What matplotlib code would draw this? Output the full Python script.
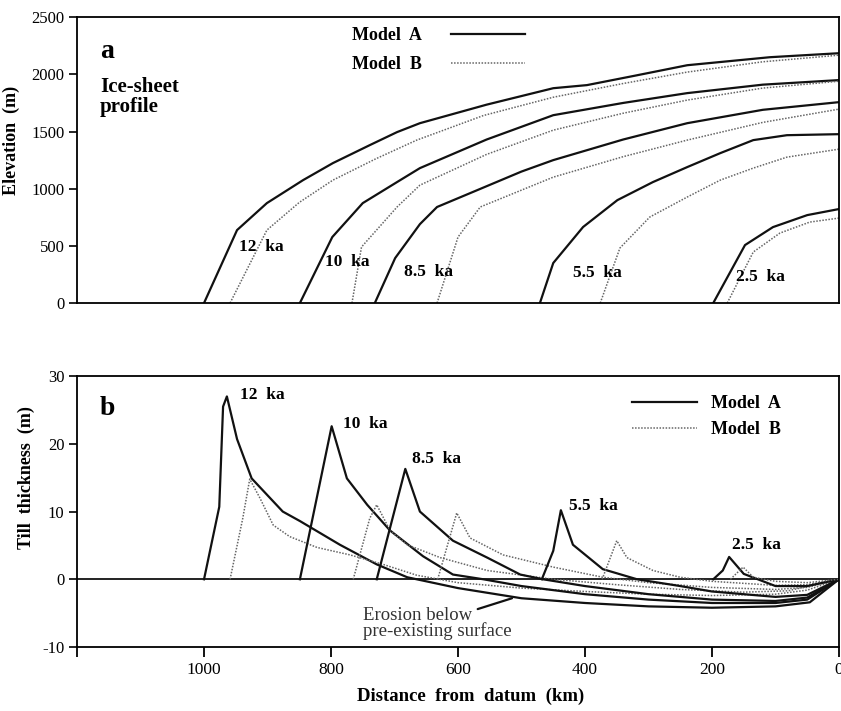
import matplotlib
matplotlib.use("Agg")
import matplotlib.pyplot as plt

plt.rcParams['font.family'] = ['Liberation Serif', 'DejaVu Serif']
plt.rcParams['axes.unicode_minus'] = False

ages = ["12", "10", "8.5", "5.5", "2.5"]

# Ice-sheet profiles: (distance km, elevation m)
prof_A = {
    "12": ([1000, 948, 901, 844, 797, 739, 696, 660, 555, 450, 397, 320, 239, 109, 0],
           [0, 638, 874, 1075, 1224, 1381, 1495, 1573, 1735, 1879, 1906, 1990, 2080, 2150, 2185]),
    "10": ([849, 798, 750, 696, 660, 555, 450, 340, 239, 120, 0],
           [0, 577, 874, 1058, 1180, 1430, 1643, 1750, 1836, 1910, 1950]),
    "8.5": ([731, 699, 660, 633, 581, 500, 450, 340, 239, 120, 0],
            [0, 393, 690, 840, 961, 1150, 1250, 1430, 1573, 1690, 1757]),
    "5.5": ([471, 450, 403, 349, 293, 239, 187, 135, 82, 0],
            [0, 350, 665, 900, 1058, 1189, 1311, 1425, 1468, 1477]),
    "2.5": ([198, 148, 104, 50, 0],
            [0, 507, 664, 769, 822]),
}
prof_B = {
    "12": ([959, 901, 850, 797, 730, 665, 560, 450, 340, 239, 120, 0],
           [0, 638, 880, 1075, 1260, 1425, 1640, 1800, 1920, 2020, 2110, 2168]),
    "10": ([767, 752, 696, 660, 555, 450, 340, 239, 120, 0],
           [0, 490, 840, 1031, 1300, 1512, 1660, 1775, 1880, 1940]),
    "8.5": ([633, 600, 565, 450, 340, 239, 120, 0],
            [0, 577, 840, 1101, 1280, 1425, 1580, 1696]),
    "5.5": ([376, 345, 298, 239, 187, 135, 82, 0],
            [0, 481, 752, 927, 1075, 1180, 1276, 1346]),
    "2.5": ([176, 135, 93, 46, 0],
            [0, 446, 612, 708, 743]),
}

# Till thickness: (distance km, thickness m)
till_A = {
    "12": ([1000, 976, 970, 964, 948, 925, 876, 849, 786, 728, 680, 600, 500, 400, 300, 200, 100, 46, 0],
           [0, 10.7, 25.5, 27.0, 20.7, 14.9, 10.0, 8.6, 5.1, 2.2, 0.3, -1.3, -2.8, -3.5, -4.0, -4.2, -4.0, -3.4, 0]),
    "10": ([849, 799, 775, 743, 707, 655, 608, 560, 500, 400, 300, 200, 100, 50, 0],
           [0, 22.6, 14.9, 11.0, 7.2, 3.4, 0.7, 0, -1.0, -2.2, -3.0, -3.5, -3.5, -3.0, 0]),
    "8.5": ([728, 683, 660, 608, 554, 502, 466, 400, 300, 200, 100, 50, 0],
            [0, 16.3, 10.0, 5.7, 3.2, 0.7, 0, -1.0, -2.2, -3.0, -3.2, -2.7, 0]),
    "5.5": ([468, 450, 438, 419, 372, 318, 250, 200, 100, 50, 0],
            [0, 4.2, 10.2, 5.1, 1.5, 0, -1.0, -1.8, -2.6, -2.3, 0]),
    "2.5": ([198, 183, 173, 150, 100, 50, 0],
            [0, 1.3, 3.3, 0.8, -1.0, -1.0, 0]),
}
till_B = {
    "12": ([959, 939, 928, 912, 891, 865, 822, 770, 718, 665, 600, 500, 400, 300, 200, 100, 50, 0],
           [0, 9.0, 14.8, 12.0, 8.0, 6.3, 4.7, 3.6, 2.2, 0.6, -0.5, -1.3, -1.8, -2.2, -2.4, -2.2, -1.6, 0]),
    "10": ([765, 739, 728, 707, 680, 628, 554, 450, 350, 250, 150, 80, 0],
           [0, 9.0, 11.0, 7.2, 5.1, 3.2, 1.3, 0, -0.8, -1.5, -1.9, -1.7, 0]),
    "8.5": ([632, 602, 581, 529, 450, 372, 300, 200, 100, 50, 0],
            [0, 9.8, 6.1, 3.6, 1.8, 0.3, -0.5, -1.2, -1.5, -1.2, 0]),
    "5.5": ([373, 350, 334, 293, 250, 200, 100, 50, 0],
            [0, 5.7, 3.2, 1.3, 0.3, -0.3, -0.9, -0.8, 0]),
    "2.5": ([171, 151, 135, 100, 50, 0],
            [0, 1.8, 0.3, -0.3, -0.5, 0]),
}

# label positions (km, value)
prof_labels = {"12": (910, 490), "10": (775, 360), "8.5": (647, 270), "5.5": (381, 262), "2.5": (123, 227)}
till_labels = {"12": (943, 27.2), "10": (781, 23.0), "8.5": (672, 17.7), "5.5": (425, 10.8), "2.5": (169, 5.0)}

x_ticks = [1200, 1000, 800, 600, 400, 200, 0]
x_ticklabels = ["", "1000", "800", "600", "400", "200", "0"]

solid = dict(color="#111111", lw=1.6)
dotted = dict(color="#666666", lw=1.1, linestyle=(0, (1, 1)))

fig = plt.figure(figsize=(8.41, 7.11), dpi=100)
ax1 = fig.add_axes([0.0916, 0.5738, 0.906, 0.402])
ax2 = fig.add_axes([0.0916, 0.090, 0.906, 0.381])

for ax in (ax1, ax2):
    ax.set_xlim(1200, 0)
    for s in ax.spines.values():
        s.set_linewidth(1.3)
    ax.tick_params(axis="y", direction="out", length=6, width=1.2, labelsize=12, pad=3)

# panel a
for i, a in enumerate(ages):
    xa, ya = prof_A[a]
    xb, yb = prof_B[a]
    ax1.plot(xa, ya, label="Model  A" if i == 0 else None, **solid)
    ax1.plot(xb, yb, label="Model  B" if i == 0 else None, **dotted)
    lx, ly = prof_labels[a]
    ax1.text(lx, ly, a + "  ka", fontsize=12.5, fontweight="bold", ha="center", va="center")
ax1.set_ylim(0, 2500)
ax1.set_yticks([0, 500, 1000, 1500, 2000, 2500])
ax1.set_xticks([])
ax1.set_ylabel("Elevation  (m)", fontsize=13, fontweight="bold")
ax1.yaxis.set_label_coords(-0.075, 0.57)
ax1.text(0.03, 0.88, "a", transform=ax1.transAxes, fontsize=20, fontweight="bold", va="center")
ax1.text(0.03, 0.72, "Ice-sheet\nprofile", transform=ax1.transAxes, fontsize=15,
         fontweight="bold", va="center", linespacing=1.0)
ax1.legend(loc="upper left", bbox_to_anchor=(0.361, 0.965), frameon=False, markerfirst=False,
           handlelength=4.1, handletextpad=1.6, labelspacing=0.65, borderpad=0, borderaxespad=0,
           prop=dict(size=13, weight="bold"))

# panel b
ax2.axhline(0, color="#111111", lw=1.3)
for i, a in enumerate(ages):
    xa, ya = till_A[a]
    xb, yb = till_B[a]
    ax2.plot(xa, ya, label="Model  A" if i == 0 else None, **solid)
    ax2.plot(xb, yb, label="Model  B" if i == 0 else None, **dotted)
    lx, ly = till_labels[a]
    ax2.text(lx, ly, a + "  ka", fontsize=12.5, fontweight="bold", ha="left", va="center")
ax2.set_ylim(-10, 30)
ax2.set_yticks([-10, 0, 10, 20, 30])
ax2.set_xticks(x_ticks)
ax2.set_xticklabels(x_ticklabels)
ax2.tick_params(axis="x", direction="out", length=7, width=1.3, labelsize=12.5, pad=4)
ax2.set_ylabel("Till  thickness  (m)", fontsize=13, fontweight="bold")
ax2.yaxis.set_label_coords(-0.055, 0.627)
ax2.set_xlabel("Distance  from  datum  (km)", fontsize=13.5, fontweight="bold")
ax2.xaxis.set_label_coords(0.517, -0.152)
ax2.text(0.03, 0.88, "b", transform=ax2.transAxes, fontsize=20, fontweight="bold", va="center")
ax2.text(750, -6.5, "Erosion below\npre-existing surface", fontsize=13.5, color="#333333",
         va="center", ha="left", linespacing=0.9)
ax2.annotate("", xy=(515, -2.8), xytext=(569, -4.4),
             arrowprops=dict(arrowstyle="-", color="#111111", lw=1.6, shrinkA=0, shrinkB=0))
ax2.legend(loc="upper left", bbox_to_anchor=(0.728, 0.93), frameon=False,
           handlelength=3.6, handletextpad=0.8, labelspacing=0.5, borderpad=0, borderaxespad=0,
           prop=dict(size=13, weight="bold"))

fig.savefig("out.png", dpi=100, facecolor="white")
